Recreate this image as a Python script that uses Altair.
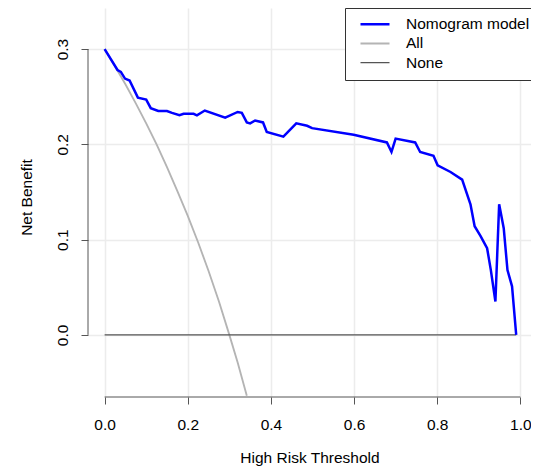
import altair as alt
import pandas as pd

# ---- data ----
series = ["Nomogram model", "All", "None"]

thr_model = [0.000, 0.031, 0.039, 0.049, 0.060, 0.080, 0.100, 0.111, 0.129, 0.150,
             0.162, 0.180, 0.190, 0.214, 0.222, 0.241, 0.290, 0.320, 0.330, 0.342,
             0.350, 0.362, 0.381, 0.390, 0.430, 0.461, 0.487, 0.499, 0.599, 0.679,
             0.690, 0.700, 0.747, 0.759, 0.791, 0.801, 0.832, 0.860, 0.880, 0.890,
             0.904, 0.920, 0.929, 0.940, 0.949, 0.960, 0.969, 0.980, 0.990]
nb_model = [0.300, 0.278, 0.276, 0.269, 0.267, 0.249, 0.247, 0.238, 0.235, 0.235,
            0.233, 0.2305, 0.232, 0.232, 0.2305, 0.2355, 0.228, 0.234, 0.233, 0.223,
            0.222, 0.225, 0.223, 0.213, 0.208, 0.222, 0.2195, 0.217, 0.210, 0.202,
            0.192, 0.206, 0.202, 0.192, 0.188, 0.178, 0.171, 0.163, 0.137, 0.114,
            0.104, 0.091, 0.068, 0.035, 0.137, 0.112, 0.068, 0.051, 0.000]

thr_all = [0.000, 0.025, 0.050, 0.075, 0.100, 0.125, 0.150, 0.175, 0.200, 0.225,
           0.250, 0.275, 0.300, 0.320, 0.342]
nb_all = [0.300, 0.282, 0.263, 0.243, 0.222, 0.200, 0.176, 0.151, 0.125, 0.097,
          0.067, 0.035, 0.000, -0.029, -0.064]

thr_none = [0.0, 0.99]
nb_none = [0.0, 0.0]

x_ticks = [0.0, 0.2, 0.4, 0.6, 0.8, 1.0]
y_ticks = [0.0, 0.1, 0.2, 0.3]

rows = []
for name, xs_, ys_ in [("All", thr_all, nb_all), ("None", thr_none, nb_none),
                       ("Nomogram model", thr_model, nb_model)]:
    for i, (a, b) in enumerate(zip(xs_, ys_)):
        rows.append({"series": name, "thr": a, "nb": b, "ord": i})
df = pd.DataFrame(rows)

FONT = "Liberation Sans"
FS = 15.5
W, H = 443, 389

xscale = alt.Scale(domain=[-0.04, 1.0256], nice=False, zero=False)
yscale = alt.Scale(domain=[-0.0652, 0.3431], nice=False, zero=False)

leg = alt.Legend(title=None, orient="none", legendX=257, legendY=0,
                 direction="vertical", fillColor="white", strokeColor="#333333",
                 padding=8, symbolType="stroke", symbolSize=841, symbolOffset=6,
                 clipHeight=16.5, rowPadding=2.2,
                 labelOffset=15, labelFont=FONT, labelFontSize=FS,
                 labelColor="#000000", labelLimit=0)

lines = alt.Chart(df).mark_line(clip=True).encode(
    x=alt.X("thr:Q", scale=xscale,
            axis=alt.Axis(values=x_ticks, format=".1f", grid=True,
                          gridColor="#ececec", gridWidth=1.5, domain=False,
                          tickSize=7, tickColor="#555555", tickWidth=1,
                          labelFont=FONT, labelFontSize=FS, labelColor="#000000",
                          labelPadding=13, labelFlush=False, labelOverlap=False,
                          labelBound=False,
                          title="High Risk Threshold", titleFont=FONT,
                          titleFontSize=FS, titleFontWeight="normal",
                          titleColor="#000000", titleY=65,
                          titleBaseline="alphabetic")),
    y=alt.Y("nb:Q", scale=yscale,
            axis=alt.Axis(values=y_ticks, format=".1f", grid=True,
                          gridColor="#ececec", gridWidth=1.5, domain=False,
                          tickSize=7, tickColor="#555555", tickWidth=1,
                          labelFont=FONT, labelFontSize=FS, labelColor="#000000",
                          labelAngle=270, labelAlign="center",
                          labelBaseline="alphabetic", labelPadding=14,
                          labelFlush=False, labelOverlap=False, labelBound=False,
                          title="Net Benefit", titleFont=FONT, titleFontSize=FS,
                          titleFontWeight="normal", titleColor="#000000",
                          titleAngle=270, titleX=-57, titleY=189,
                          titleAlign="center", titleBaseline="alphabetic")),
    color=alt.Color("series:N",
                    scale=alt.Scale(domain=series,
                                    range=["#0000ff", "#b4b4b4", "#555555"]),
                    legend=leg),
    strokeWidth=alt.StrokeWidth("series:N",
                                scale=alt.Scale(domain=series, range=[2.5, 1.2, 1.3]),
                                legend=leg),
    detail="series:N",
    order="ord:Q",
)

xline_df = pd.DataFrame({"a": [min(x_ticks)], "b": [max(x_ticks)]})
yline_df = pd.DataFrame({"a": [min(y_ticks)], "b": [max(y_ticks)]})

x_axis_line = alt.Chart(xline_df).mark_rule(color="#555555", strokeWidth=1).encode(
    x=alt.X("a:Q", scale=xscale), x2="b:Q", y=alt.value(H))
y_axis_line = alt.Chart(yline_df).mark_rule(color="#555555", strokeWidth=1).encode(
    y=alt.Y("a:Q", scale=yscale), y2="b:Q", x=alt.value(0))

chart = alt.layer(lines, x_axis_line, y_axis_line).properties(
    width=W, height=H,
    autosize=alt.AutoSizeParams(type="none"),
    padding={"left": 80, "top": 0, "right": 0, "bottom": 69},
    background="white",
).configure_view(stroke=None)

chart.save("out.html", embed_options={"renderer": "svg", "actions": False})
